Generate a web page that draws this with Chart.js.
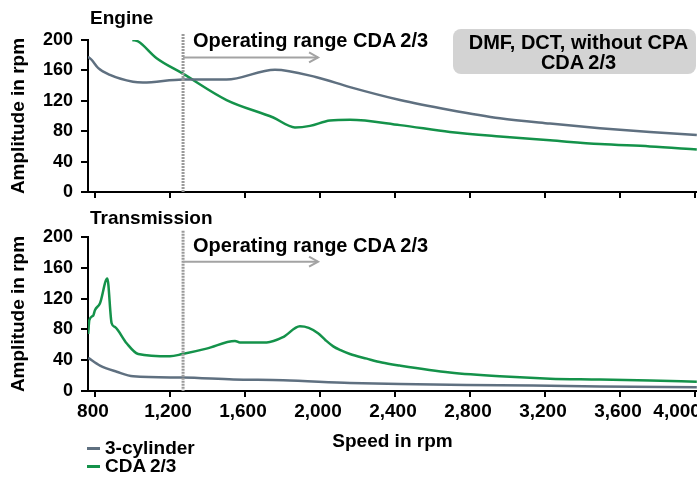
<!DOCTYPE html>
<html>
<head>
<meta charset="utf-8">
<script src="https://cdn.jsdelivr.net/npm/chart.js@4.4.0/dist/chart.umd.min.js"></script>
<style>
  html, body { margin: 0; padding: 0; background: #fff; }
  #wrap { position: relative; width: 697px; height: 479px; overflow: hidden;
          font-family: "Liberation Sans", Arial, sans-serif; font-weight: bold; color: #000; }
  canvas { position: absolute; left: 0; }
  #engineChart { top: 0; }
  #transChart { top: 200px; }
  .lbl { position: absolute; font-size: 19px; line-height: 22px; white-space: nowrap; transform: translateY(-50%); }
  .big { font-size: 20px; }
  .note { position: absolute; left: 453px; top: 29px; width: 243px; height: 45px; background: #d3d3d3;
          border-radius: 8px; font-size: 20px; line-height: 20px; text-align: center;
          box-sizing: border-box; padding: 3px 0 0 8px; }
  .key { position: absolute; left: 87px; width: 13px; height: 3px; }
</style>
</head>
<body>
<div id="wrap">
  <canvas id="engineChart" width="697" height="200"></canvas>
  <canvas id="transChart" width="697" height="279"></canvas>

  <div class="lbl" style="left:90px; top:18px;">Engine</div>
  <div class="lbl" style="left:90px; top:218px;">Transmission</div>
  <div class="lbl big" style="left:193px; top:40px;">Operating range CDA&#8201;2/3</div>
  <div class="lbl big" style="left:193px; top:245px;">Operating range CDA&#8201;2/3</div>
  <div class="note">DMF, DCT, without CPA<br>CDA&#8201;2/3</div>

  <div class="key" style="top:447px; background:#5f7080;"></div>
  <div class="lbl" style="left:105px; top:448px;">3-cylinder</div>
  <div class="key" style="top:465px; background:#14924a;"></div>
  <div class="lbl" style="left:105px; top:466px;">CDA&#8201;2/3</div>
</div>

<script>
// x ticks (speed in rpm) and operating range
const xTicks = [800, 1200, 1600, 2000, 2400, 2800, 3200, 3600, 4000];
const rangeStart = 1270;
const rangeEnd = 1990;

// Engine - 3-cylinder
const engCylRpm = [763, 782, 818, 880, 1003, 1056, 1270, 1502, 1760, 1982, 2160, 2427, 2693, 2960, 3227, 3493, 3760, 4010];
const engCylAmp = [178, 174, 163, 154, 145, 144, 148, 148, 161, 151, 138, 121, 108, 97, 90, 84, 79, 75];

// Engine - CDA 2/3
const engCdaRpm = [1000, 1031, 1129, 1267, 1502, 1751, 1867, 1947, 2053, 2160, 2427, 2693, 2960, 3227, 3493, 3760, 4010];
const engCdaAmp = [200, 198, 176, 156, 121, 98, 85, 87, 94, 95, 88, 79, 73, 68, 63, 60, 56];

// Transmission - 3-cylinder
const trCylRpm = [764, 827, 916, 1004, 1267, 1538, 1804, 2160, 2427, 2960, 3493, 4010];
const trCylAmp = [43, 33, 25, 19, 17.5, 15, 14, 10.5, 9, 7.5, 6, 5];

// Transmission - CDA 2/3
const trCdaRpm = [764, 770, 791, 800, 827, 866, 889, 907, 969, 1031, 1200, 1267, 1395, 1547, 1573, 1716, 1804, 1893, 1940, 1990, 2030, 2071, 2110, 2160, 2250, 2330, 2427, 2693, 2960, 3227, 3493, 3760, 4010];
const trCdaAmp = [74, 92, 98, 105, 114, 146, 88, 83, 62, 48, 45, 48, 55, 65, 63, 63, 70, 84, 82, 75, 66, 58, 53, 48, 42, 37, 33, 24, 19, 16, 15, 13.5, 12];

const blue = '#5f7080';
const green = '#14924a';

Chart.defaults.font.family = '"Liberation Sans", Arial, sans-serif';
Chart.defaults.font.weight = 'bold';
Chart.defaults.color = '#000';

function pts(xs, ys) {
    return xs.map((x, i) => ({ x: x, y: ys[i] }));
}

function lineSet(label, xs, ys, color) {
    return {
        label: label,
        data: pts(xs, ys),
        borderColor: color,
        backgroundColor: color,
        borderWidth: 2.5,
        pointRadius: 0,
        cubicInterpolationMode: 'monotone',
        fill: false
    };
}

// keep the plot area fixed, no extra room for overhanging labels
function noPad(s) {
    s.paddingTop = 0;
    s.paddingBottom = 0;
    s.paddingLeft = 0;
    s.paddingRight = 0;
}

// last label is pulled in a bit so it stays mostly visible
function xLabel(v, i, arr) {
    const txt = v.toLocaleString('en-US');
    return i === arr.length - 1 ? txt + '\u2007\u2007\u2007' : txt;
}

// dotted start line and arrow of the operating range
const rangePlugin = {
    id: 'range',
    afterDatasetsDraw(chart, args, opts) {
        const ctx = chart.ctx;
        const xs = chart.scales.x;
        const ys = chart.scales.y;
        const x0 = xs.getPixelForValue(rangeStart);
        const x1 = xs.getPixelForValue(rangeEnd);
        const y = ys.getPixelForValue(opts.arrowAt);
        ctx.save();
        ctx.strokeStyle = '#9a9a9a';
        ctx.lineWidth = 3;
        ctx.setLineDash([2, 1]);
        ctx.beginPath();
        ctx.moveTo(x0, ys.getPixelForValue(208));
        ctx.lineTo(x0, ys.getPixelForValue(0));
        ctx.stroke();

        ctx.setLineDash([]);
        ctx.strokeStyle = '#a3a3a3';
        ctx.lineWidth = 2;
        ctx.beginPath();
        ctx.moveTo(x0, y);
        ctx.lineTo(x1, y);
        ctx.stroke();
        ctx.beginPath();
        ctx.moveTo(x1 - 9, y - 5);
        ctx.lineTo(x1, y);
        ctx.lineTo(x1 - 9, y + 5);
        ctx.stroke();
        ctx.restore();
    }
};

function makeOptions(showX, arrowAt, padTop, xHeight) {
    return {
        responsive: false,
        animation: false,
        devicePixelRatio: 1,
        layout: { padding: { top: padTop, left: 0, right: 0, bottom: 0 } },
        plugins: {
            legend: { display: false },
            tooltip: { enabled: false },
            range: { arrowAt: arrowAt }
        },
        scales: {
            x: {
                type: 'linear',
                min: 763,
                max: 4011,
                afterBuildTicks: s => { s.ticks = xTicks.map(v => ({ value: v })); },
                afterFit: s => { s.height = xHeight; noPad(s); },
                ticks: {
                    display: showX,
                    autoSkip: false,
                    maxRotation: 0,
                    padding: 3,
                    labelOffset: -2,
                    font: { size: 19, weight: 'bold' },
                    callback: xLabel
                },
                grid: { drawOnChartArea: false, drawTicks: true, tickLength: 6, color: '#000', lineWidth: 2 },
                border: { color: '#000', width: 2 },
                title: {
                    display: showX,
                    text: 'Speed in rpm',
                    font: { size: 19, weight: 'bold' },
                    padding: { top: 0, bottom: 26 }
                }
            },
            y: {
                min: 0,
                max: 200,
                afterFit: s => { s.width = 88; noPad(s); },
                ticks: { stepSize: 40, padding: 8, font: { size: 18, weight: 'bold' } },
                grid: { drawOnChartArea: false, drawTicks: true, tickLength: 7, color: '#000', lineWidth: 2 },
                border: { color: '#000', width: 2 },
                title: {
                    display: true,
                    text: 'Amplitude in rpm',
                    font: { size: 19, weight: 'bold' },
                    padding: { top: 7, bottom: 0 }
                }
            }
        }
    };
}

new Chart(document.getElementById('engineChart').getContext('2d'), {
    type: 'line',
    data: {
        datasets: [
            lineSet('3-cylinder', engCylRpm, engCylAmp, blue),
            lineSet('CDA 2/3', engCdaRpm, engCdaAmp, green)
        ]
    },
    options: makeOptions(false, 177, 40, 8),
    plugins: [rangePlugin]
});

new Chart(document.getElementById('transChart').getContext('2d'), {
    type: 'line',
    data: {
        datasets: [
            lineSet('3-cylinder', trCylRpm, trCylAmp, blue),
            lineSet('CDA 2/3', trCdaRpm, trCdaAmp, green)
        ]
    },
    options: makeOptions(true, 168, 37, 88),
    plugins: [rangePlugin]
});
</script>
</body>
</html>
